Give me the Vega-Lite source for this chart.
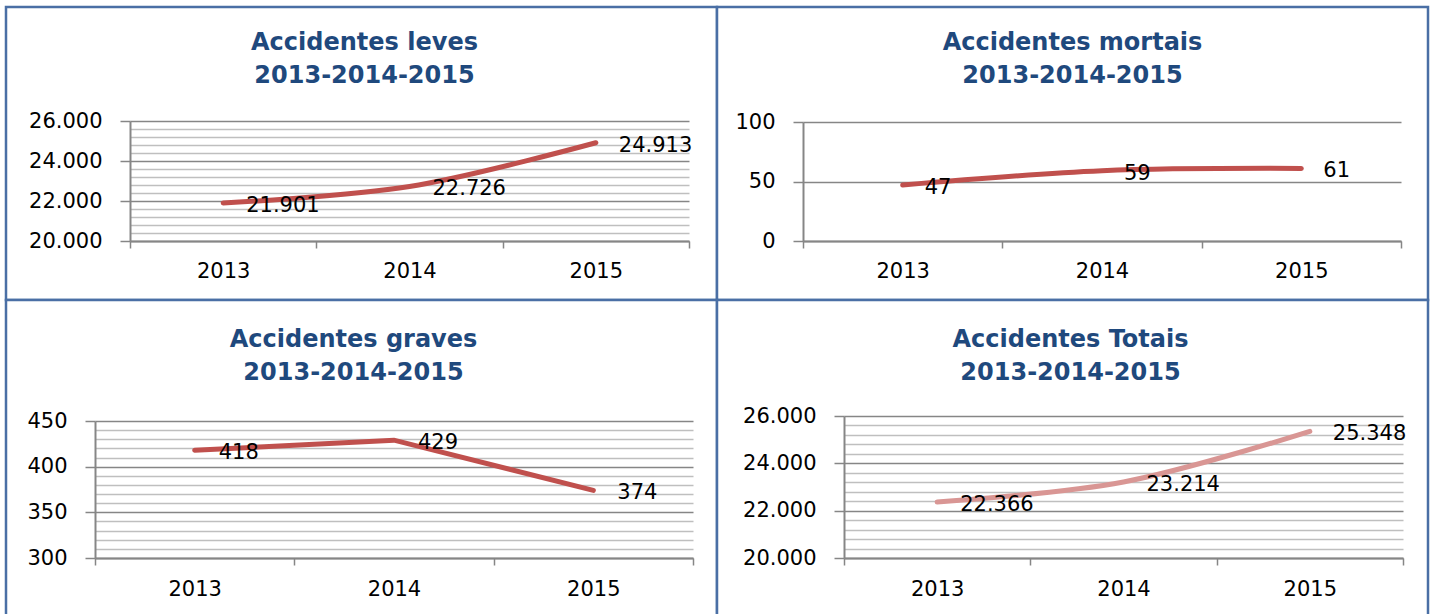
{
  "$schema": "https://vega.github.io/schema/vega-lite/v6.json",
  "padding": {"left": 4, "top": 5, "right": 6, "bottom": -6},
  "background": "white",
  "columns": 2,
  "spacing": 0,
  "bounds": "flush",
  "config": {
    "locale": {"number": {"decimal": ",", "thousands": ".", "grouping": [3], "currency": ["", " €"]}},
    "view": {"stroke": "#4A6FA5", "strokeWidth": 2.5, "fill": "white"},
    "axis": {"labelFont": "DejaVu Sans", "labelFontSize": 21, "labelColor": "#000000", "domainColor": "#868686", "tickColor": "#868686", "domainWidth": 2, "tickWidth": 1.5, "gridColor": "#868686", "gridWidth": 1.3},
    "title": {"font": "DejaVu Sans", "fontSize": 24, "fontWeight": "bold", "color": "#1F497D", "lineHeight": 33, "anchor": "middle"},
    "text": {"font": "DejaVu Sans", "fontSize": 21, "color": "#000000"}
  },
  "concat": [
    {
      "width": 711, "height": 293,
      "title": {"text": ["Accidentes leves", "2013-2014-2015"], "offset": -81, "dx": 3},
      "data": {"values": [{"ano": "2013", "valor": 21901}, {"ano": "2014", "valor": 22726}, {"ano": "2015", "valor": 24913}]},
      "encoding": {
        "x": {"field": "ano", "type": "ordinal", "scale": {"type": "band", "range": [124, 683], "paddingInner": 0, "paddingOuter": 0},
              "axis": {"title": null, "tickBand": "extent", "tickSize": 7, "labelPadding": 23, "labelBaseline": "middle", "labelAngle": 0, "offset": -59, "grid": false}},
        "y": {"field": "valor", "type": "quantitative", "scale": {"domain": [20000, 26000], "range": [234, 114], "zero": false, "nice": false},
              "axis": {"title": null, "values": [20000,20400,20800,21200,21600,22000,22400,22800,23200,23600,24000,24400,24800,25200,25600,26000],
                       "format": ",d", "offset": -124, "tickSize": 10, "labelPadding": 18,
                       "labelExpr": "datum.value % 2000 === 0 ? datum.label : ''",
                       "tickOpacity": {"condition": {"test": "datum.value % 2000 === 0", "value": 1}, "value": 0},
                       "gridColor": {"condition": {"test": "datum.value % 2000 === 0", "value": "#868686"}, "value": "#BFBFBF"}}}
      },
      "layer": [
        {"mark": {"type": "line", "color": "#C0504D", "strokeWidth": 5, "interpolate": "catmull-rom", "strokeCap": "round"}},
        {"mark": {"type": "text", "align": "left", "baseline": "middle", "dx": 23, "dy": 3}, "encoding": {"text": {"field": "valor", "type": "quantitative", "format": ",d"}}}
      ]
    },
    {
      "width": 711, "height": 293,
      "title": {"text": ["Accidentes mortais", "2013-2014-2015"], "offset": -81, "dx": 0},
      "data": {"values": [{"ano": "2013", "valor": 47}, {"ano": "2014", "valor": 59}, {"ano": "2015", "valor": 61}]},
      "encoding": {
        "x": {"field": "ano", "type": "ordinal", "scale": {"type": "band", "range": [86, 684], "paddingInner": 0, "paddingOuter": 0},
              "axis": {"title": null, "tickBand": "extent", "tickSize": 7, "labelPadding": 23, "labelBaseline": "middle", "labelAngle": 0, "offset": -59, "grid": false}},
        "y": {"field": "valor", "type": "quantitative", "scale": {"domain": [0, 100], "range": [234, 115], "zero": false, "nice": false},
              "axis": {"title": null, "values": [0, 50, 100], "format": ",d", "offset": -86, "tickSize": 10, "labelPadding": 18}}
      },
      "layer": [
        {"mark": {"type": "line", "color": "#C0504D", "strokeWidth": 5, "interpolate": "catmull-rom", "strokeCap": "round"}},
        {"mark": {"type": "text", "align": "left", "baseline": "middle", "dx": 22, "dy": 3}, "encoding": {"text": {"field": "valor", "type": "quantitative", "format": ",d"}}}
      ]
    },
    {
      "width": 711, "height": 318,
      "title": {"text": ["Accidentes graves", "2013-2014-2015"], "offset": -85, "dx": -8},
      "data": {"values": [{"ano": "2013", "valor": 418}, {"ano": "2014", "valor": 429}, {"ano": "2015", "valor": 374}]},
      "encoding": {
        "x": {"field": "ano", "type": "ordinal", "scale": {"type": "band", "range": [89, 687], "paddingInner": 0, "paddingOuter": 0},
              "axis": {"title": null, "tickBand": "extent", "tickSize": 7, "labelPadding": 24, "labelBaseline": "middle", "labelAngle": 0, "offset": -60, "grid": false}},
        "y": {"field": "valor", "type": "quantitative", "scale": {"domain": [300, 450], "range": [258, 121], "zero": false, "nice": false},
              "axis": {"title": null, "values": [300,310,320,330,340,350,360,370,380,390,400,410,420,430,440,450],
                       "format": ",d", "offset": -89, "tickSize": 10, "labelPadding": 18,
                       "labelExpr": "datum.value % 50 === 0 ? datum.label : ''",
                       "tickOpacity": {"condition": {"test": "datum.value % 50 === 0", "value": 1}, "value": 0},
                       "gridColor": {"condition": {"test": "datum.value % 50 === 0", "value": "#868686"}, "value": "#BFBFBF"}}}
      },
      "layer": [
        {"mark": {"type": "line", "color": "#C0504D", "strokeWidth": 5, "interpolate": "linear", "strokeCap": "round"}},
        {"mark": {"type": "text", "align": "left", "baseline": "middle", "dx": 24, "dy": 3}, "encoding": {"text": {"field": "valor", "type": "quantitative", "format": ",d"}}}
      ]
    },
    {
      "width": 711, "height": 318,
      "title": {"text": ["Accidentes Totais", "2013-2014-2015"], "offset": -85, "dx": -2},
      "data": {"values": [{"ano": "2013", "valor": 22366}, {"ano": "2014", "valor": 23214}, {"ano": "2015", "valor": 25348}]},
      "encoding": {
        "x": {"field": "ano", "type": "ordinal", "scale": {"type": "band", "range": [127, 686], "paddingInner": 0, "paddingOuter": 0},
              "axis": {"title": null, "tickBand": "extent", "tickSize": 7, "labelPadding": 24, "labelBaseline": "middle", "labelAngle": 0, "offset": -60, "grid": false}},
        "y": {"field": "valor", "type": "quantitative", "scale": {"domain": [20000, 26000], "range": [258, 116], "zero": false, "nice": false},
              "axis": {"title": null, "values": [20000,20400,20800,21200,21600,22000,22400,22800,23200,23600,24000,24400,24800,25200,25600,26000],
                       "format": ",d", "offset": -127, "tickSize": 10, "labelPadding": 18,
                       "labelExpr": "datum.value % 2000 === 0 ? datum.label : ''",
                       "tickOpacity": {"condition": {"test": "datum.value % 2000 === 0", "value": 1}, "value": 0},
                       "gridColor": {"condition": {"test": "datum.value % 2000 === 0", "value": "#868686"}, "value": "#BFBFBF"}}}
      },
      "layer": [
        {"mark": {"type": "line", "color": "#D99694", "strokeWidth": 5, "interpolate": "catmull-rom", "strokeCap": "round"}},
        {"mark": {"type": "text", "align": "left", "baseline": "middle", "dx": 23, "dy": 3}, "encoding": {"text": {"field": "valor", "type": "quantitative", "format": ",d"}}}
      ]
    }
  ]
}
